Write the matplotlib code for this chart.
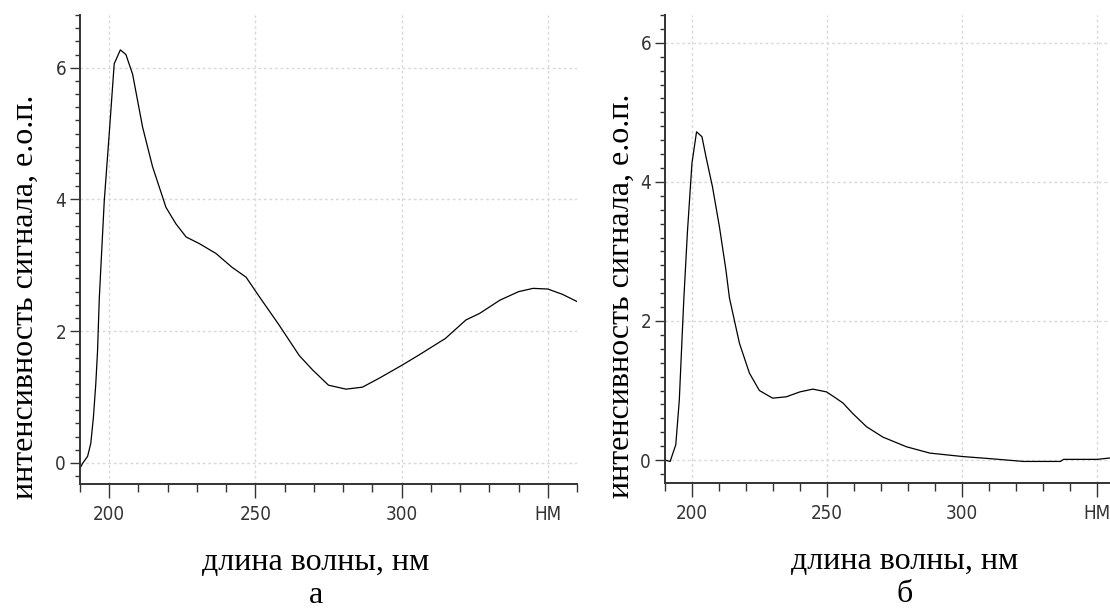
import matplotlib
matplotlib.use('Agg')
import matplotlib.pyplot as plt
from matplotlib.ticker import MultipleLocator, FixedLocator, FixedFormatter

# данные
wl_a = [190, 191, 192.6, 193.7, 194.6, 195.4, 196, 196.6, 198.3, 200, 201.7,
        203.8, 205.7, 208, 211.4, 214.8, 219.4, 222.8, 226.3, 230.8, 236.5,
        242, 246.8, 251.4, 258, 265, 269.6, 275, 281, 286.6, 292.5, 300, 306,
        315, 322, 326.7, 333.6, 340, 345, 350, 355, 360]
ab_a = [-0.08, 0.0, 0.1, 0.3, 0.7, 1.2, 1.7, 2.5, 3.98, 5.0, 6.06,
        6.27, 6.2, 5.9, 5.1, 4.5, 3.88, 3.63, 3.43, 3.33, 3.18,
        2.97, 2.82, 2.52, 2.1, 1.63, 1.41, 1.18, 1.12, 1.15, 1.29, 1.48, 1.64,
        1.89, 2.17, 2.27, 2.47, 2.6, 2.65, 2.64, 2.56, 2.45]

wl_b = [190, 191.9, 194, 195.3, 196.4, 197, 198.3, 200, 201.7, 203.7, 205.2,
        207.6, 210.2, 212.6, 213.9, 217.6, 221.3, 225, 229.9, 235, 240, 244.8,
        249.9, 253, 256, 259.6, 264.7, 270.8, 279.6, 288.2, 300.5, 310.6,
        322.9, 336.6, 337.8, 350.3, 355]
ab_b = [0.0, -0.02, 0.22, 0.86, 1.82, 2.33, 3.27, 4.27, 4.72, 4.65, 4.36,
        3.93, 3.35, 2.73, 2.33, 1.68, 1.25, 1.0, 0.89, 0.91, 0.98, 1.02,
        0.98, 0.9, 0.82, 0.67, 0.48, 0.33, 0.19, 0.1, 0.05, 0.02,
        -0.02, -0.02, 0.01, 0.01, 0.03]

x_ticks = [200, 250, 300, 350]
x_tick_labels = ['200', '250', '300', 'НМ']
y_ticks = [0, 2, 4, 6]

x_label = 'длина волны, нм'
y_label = 'интенсивность сигнала, е.о.п.'

serif = ['Liberation Serif', 'DejaVu Serif']
narrow = ['Liberation Sans Narrow', 'DejaVu Sans']
axis_color = '#333333'
grid_color = '#d9d9d9'


def setup_ax(ax, xlim, ylim, letter, xlab_x, ylab_x):
    '''оформление одной панели'''
    ax.set_xlim(*xlim)
    ax.set_ylim(*ylim)
    # убрать верхнюю и правую рамку
    ax.spines['top'].set_visible(False)
    ax.spines['right'].set_visible(False)
    for s in ('left', 'bottom'):
        ax.spines[s].set_color(axis_color)
        ax.spines[s].set_linewidth(1.4)
    # деления
    ax.xaxis.set_major_locator(FixedLocator(x_ticks))
    ax.xaxis.set_major_formatter(FixedFormatter(x_tick_labels))
    ax.xaxis.set_minor_locator(MultipleLocator(10))
    ax.yaxis.set_major_locator(FixedLocator(y_ticks))
    ax.yaxis.set_minor_locator(MultipleLocator(0.2))
    ax.tick_params(axis='x', which='major', length=10, width=1, pad=5,
                   color=axis_color, labelcolor=axis_color)
    ax.tick_params(axis='x', which='minor', length=5.5, width=1, color=axis_color)
    ax.tick_params(axis='y', which='major', length=7, width=1, pad=3,
                   color=axis_color, labelcolor=axis_color)
    ax.tick_params(axis='y', which='minor', length=3.6, width=1, color=axis_color)
    for lab in ax.get_xticklabels() + ax.get_yticklabels():
        lab.set_family(narrow)
        lab.set_stretch('condensed')
        lab.set_fontsize(13.5)
    # сетка
    ax.grid(True, which='major', color=grid_color, linestyle=(0, (2, 2)), linewidth=1)
    # подписи осей
    ax.text(xlab_x, -0.168, x_label, transform=ax.transAxes, ha='center',
            va='center', family=serif, fontsize=23)
    ax.text(xlab_x, -0.238, letter, transform=ax.transAxes, ha='center',
            va='center', family=serif, fontsize=23)
    ax.text(ylab_x, 0.40, y_label, transform=ax.transAxes, ha='center',
            va='center', rotation=90, family=serif, fontsize=23)


def main():
    fig = plt.figure(figsize=(11.1, 6.1), dpi=100)
    ax1 = fig.add_axes([80 / 1110, 1 - 484 / 610, 497 / 1110, 469 / 610])
    ax2 = fig.add_axes([665 / 1110, 1 - 483 / 610, 445 / 1110, 468 / 610])

    ax1.plot(wl_a, ab_a, color='black', linewidth=0.9)
    ax2.plot(wl_b, ab_b, color='black', linewidth=0.9)

    setup_ax(ax1, (190, 360), (-0.32, 6.8), 'а', 0.475, -0.111)
    setup_ax(ax2, (190, 355), (-0.33, 6.4), 'б', 0.539, -0.099)

    fig.savefig('out.png', dpi=100)


if __name__ == '__main__':
    main()
